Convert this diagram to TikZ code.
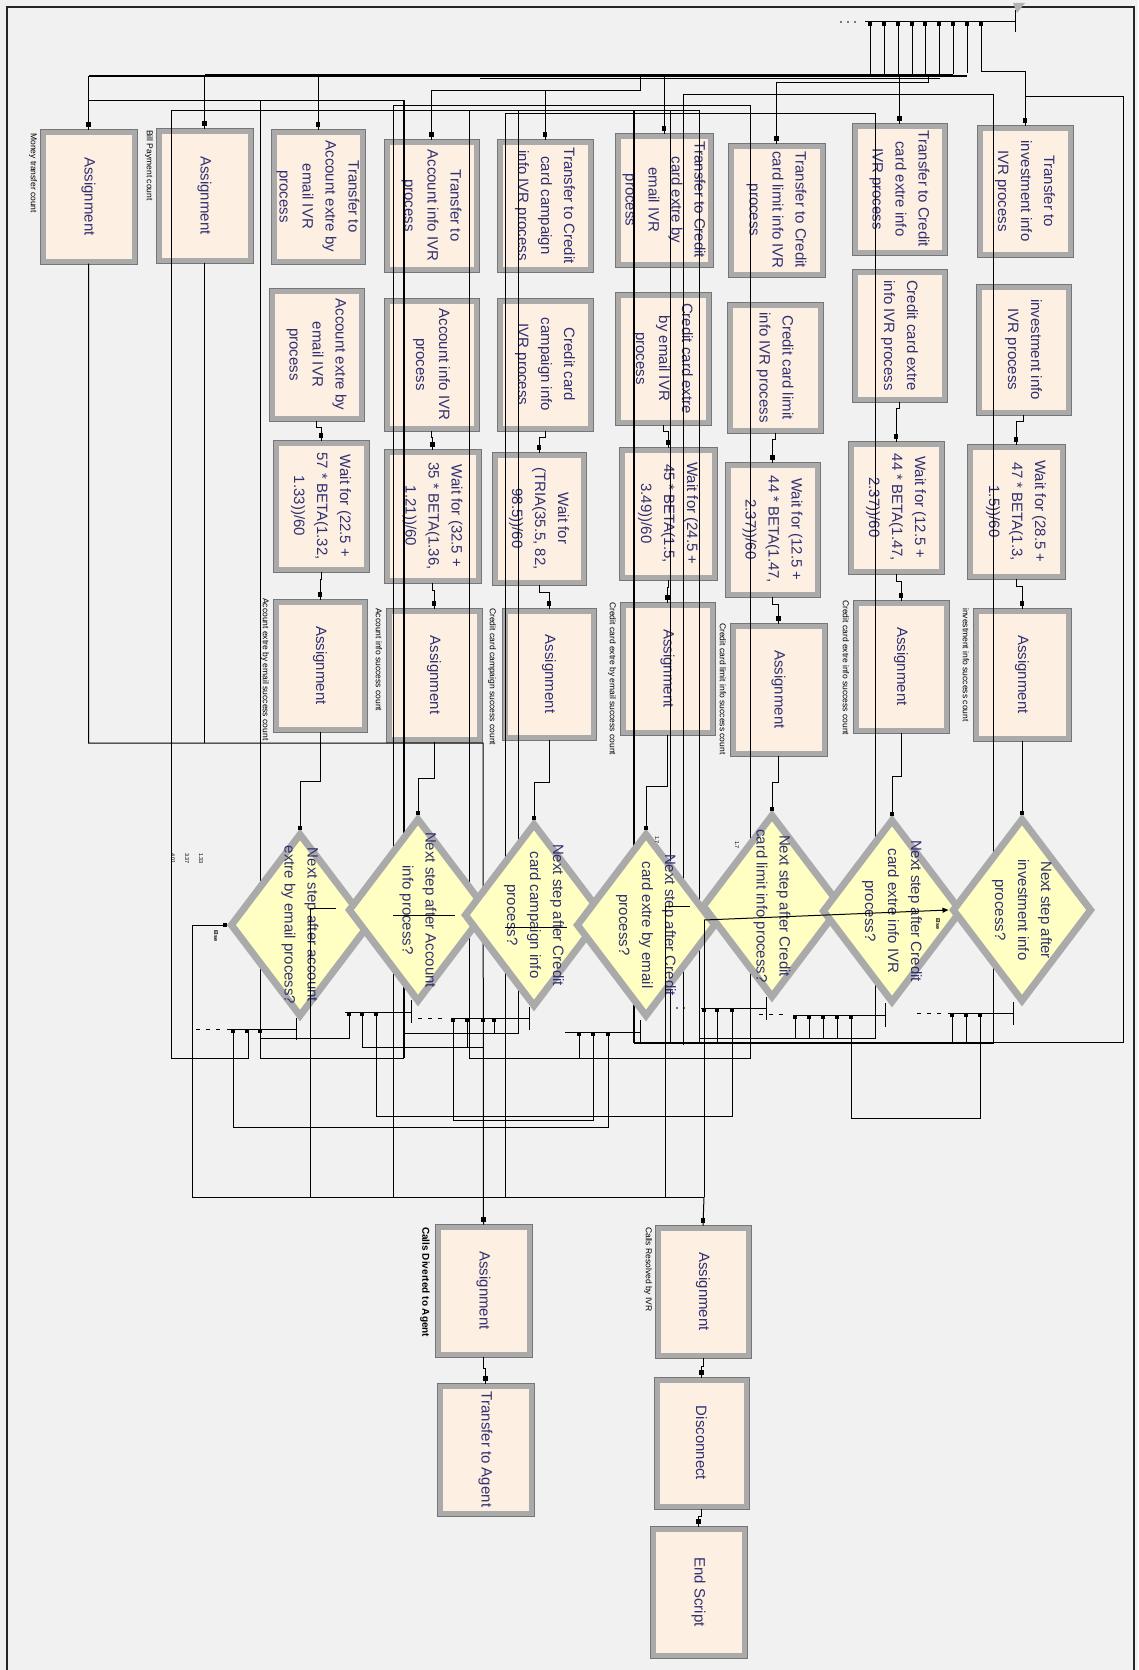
\documentclass[tikz,border=0pt]{standalone}
\usepackage{fontspec}
\setmainfont{Liberation Sans}
\usetikzlibrary{shapes.geometric,arrows.meta}
\definecolor{bg}{RGB}{241,241,241}
\definecolor{peach}{RGB}{253,240,226}
\definecolor{bevel}{RGB}{170,170,170}
\definecolor{beveldark}{RGB}{118,118,118}
\definecolor{dyellow}{RGB}{255,255,196}
\definecolor{ink}{RGB}{48,48,112}
\tikzset{
  pbox/.style={draw=bevel, line width=5pt, fill=peach, inner sep=0pt,
    preaction={draw=beveldark, line width=7pt}},
  ptext/.style={rotate=-90, align=center, text=ink, inner sep=0pt,
    font=\fontsize{15}{23}\selectfont},
  pdia/.style={shape=diamond, draw=bevel, line width=7pt, fill=dyellow, inner sep=0pt,
    minimum width=140pt, minimum height=184pt},
  lbl/.style={rotate=-90, anchor=west, inner sep=0pt, font=\fontsize{8.5}{9}\selectfont},
  tiny/.style={rotate=-90, anchor=west, inner sep=0pt, font=\fontsize{5.5}{6}\selectfont},
  cn/.style={line width=1pt, black},
  cnt/.style={line width=1.7pt, black},
  dsh/.style={line width=1pt, dash pattern=on 4pt off 6pt},
}
\newcommand\pb[6]{%
  \node[pbox, minimum width={#4-#2-6}, minimum height={#5-#3-6}] (#1) at ({(#2+#4)/2},{(#3+#5)/2}) {};
  \node[ptext] (#1t) at (#1) {#6};}
\newcommand\pd[4]{%
  \node[pdia] (#1) at (#2,#3) {};
  \node[ptext] (#1t) at (#1) {#4};}
\newcommand\indot[1]{\fill ([yshift=3pt]#1.north) ++(-2.2,-4.5) rectangle ++(4.4,4.5);}
\newcommand\pdot[2]{\fill (#1-2,#2) rectangle (#1+2,#2+4);}
\begin{document}
\begin{tikzpicture}[x=1pt,y=-1pt]
\useasboundingbox (0,0) rectangle (1138,1670);
\fill[bg] (0,0) rectangle (1138,1670);
\draw[line width=1.6pt, black!85] (7,1670) -- (7,7) -- (1134,7) -- (1134,1670);

% ---------------- boxes ----------------
\pb{B1}{40}{129}{137}{264}{Assignment}
\pb{B2}{156}{128}{253}{263}{Assignment}
\pb{T3}{271}{129}{365}{264}{Transfer to\\Account extre by\\email IVR\\process}
\pb{T4}{384}{139}{479}{272}{Transfer to\\Account info IVR\\process}
\pb{T5}{497}{139}{593}{272}{Transfer to Credit\\card campaign\\info IVR process}
\pb{T6}{615}{133}{713}{267}{Transfer to Credit\\card extre by\\email IVR\\process}
\pb{T7}{728}{143}{825}{277}{Transfer to Credit\\card limit info IVR\\process}
\pb{T8}{852}{123}{947}{255}{Transfer to Credit\\card extre info\\IVR process}
\pb{T9}{977}{125}{1073}{257}{Transfer to\\investment info\\IVR process}

\pb{R3}{269}{288}{364}{421}{Account extre by\\email IVR\\process}
\pb{R4}{384}{298}{479}{431}{Account info IVR\\process}
\pb{R5}{497}{298}{593}{431}{Credit card\\campaign info\\IVR process}
\pb{R6}{615}{292}{711}{425}{Credit card extre\\by email IVR\\process}
\pb{R7}{727}{302}{823}{433}{Credit card limit\\info IVR process}
\pb{R8}{852}{269}{947}{402}{Credit card extre\\info IVR process}
\pb{R9}{976}{284}{1071}{415}{investment info\\IVR process}

\pb{W3}{273}{440}{369}{572}{Wait for (22.5 +\\57 * BETA(1.32,\\1.33))/60}
\pb{W4}{384}{449}{481}{583}{Wait for (32.5 +\\35 * BETA(1.36,\\1.21))/60}
\pb{W5}{492}{452}{586}{585}{Wait for\\(TRIA(35.5, 82,\\98.5))/60}
\pb{W6}{619}{447}{717}{580}{Wait for (24.5 +\\45 * BETA(1.5,\\3.49))/60}
\pb{W7}{725}{462}{820}{597}{Wait for (12.5 +\\44 * BETA(1.47,\\2.37))/60}
\pb{W8}{848}{441}{944}{574}{Wait for (12.5 +\\44 * BETA(1.47,\\2.37))/60}
\pb{W9}{967}{444}{1065}{579}{Wait for (28.5 +\\47 * BETA(1.3,\\1.5))/60}

\pb{A3}{273}{599}{367}{732}{Assignment}
\pb{A4}{386}{608}{482}{742}{Assignment}
\pb{A5}{502}{608}{596}{740}{Assignment}
\pb{A6}{620}{602}{715}{735}{Assignment}
\pb{A7}{730}{623}{827}{756}{Assignment}
\pb{A8}{853}{600}{949}{733}{Assignment}
\pb{A9}{973}{608}{1071}{741}{Assignment}

\pb{CA}{435}{1224}{532}{1357}{Assignment}
\pb{TA}{437}{1383}{534}{1516}{Transfer to Agent}
\pb{CR}{655}{1225}{751}{1358}{Assignment}
\pb{DC}{654}{1377}{749}{1509}{Disconnect}
\pb{ES}{650}{1526}{747}{1658}{End Script}

% ---------------- labels ----------------
\node[lbl] (l1) at (33,133) {Money transfer count};
\node[lbl] (l2) at (149,130) {Bill Payment count};
\node[lbl] (l3) at (265,598) {Account extre by email success count};
\node[lbl] (l4) at (379,608) {Account info success count};
\node[lbl] (l5) at (492,608) {Credit card campaign success count};
\node[lbl] (l6) at (612,602) {Credit card extre by email success count};
\node[lbl] (l7) at (723,623) {Credit card limit info success count};
\node[lbl] (l8) at (846,600) {Credit card extre info success count};
\node[lbl] (l9) at (966,608) {investment info success count};
\node[lbl, font=\bfseries\fontsize{10}{10}\selectfont] (lca) at (425,1227) {Calls Diverted to Agent};
\node[lbl] (lcr) at (648,1227) {Calls Resolved by IVR};

% ---------------- top bus ----------------
\coordinate (tb0) at (865,22);
\coordinate (tb1) at (1015,22);
\draw[cn] (tb0) -- (tb1);
\draw[cn] (1015,10) -- (1015,32);
\fill[gray!60] (1013,3) -- (1025,3) -- (1017,13) -- cycle;
\fill (841,22) circle (0.9pt) (848,22) circle (0.9pt) (855,22) circle (0.9pt);
\foreach \x/\y in {870/77,884/77,898/76,912/75,925/75,939/74,953/74,967/73}{%
  \draw[cn] (\x,22) -- (\x,\y); \pdot{\x}{22}}
\pdot{981}{22}
\draw[cn] (981,22) -- (981,72) -| (T9.north);

% main bundle
\draw[line width=1.4pt] (89,76) -- (967,76);
\draw[cn] (205,74.5) -- (953,74.5);
\draw[cn] (480,78) -- (940,78);

% inputs of top boxes
\draw[cn] (B1.north |- 0,76) -- (B1.north); \indot{B1}
\draw[cn] (B2.north |- 0,76) -- (B2.north); \indot{B2}
\draw[cn] (T3.north |- 0,76) -- (T3.north); \indot{T3}
\draw[cn] (T4.north |- 0,90) -- (T4.north); \indot{T4}
\draw[cn] (T5.north |- 0,90) -- (T5.north); \indot{T5}
\draw[cn] (T4.north |- 0,90) -- (640,90) -- (640,76);
\draw[cn] (T6.north |- 0,76) -- (T6.north); \indot{T6}
\draw[cn] (928,76) -- (928,82) -| (T7.north); \indot{T7}
\draw[cn] (T8.north |- 0,76) -- (T8.north); \indot{T8}
\indot{T9}

% long routing lines
\draw[cn] (89,100) -- (404,100);
\draw[cnt] (404,100) -- (404,1058);
\draw[cn] (260,100) -- (260,1058) -- (404,1058);
\draw[cn] (393,1197) -- (393,105) -- (750,105) -- (750,1058) -- (469,1058) -- (469,110);
\draw[cn] (248,1029) -- (248,1058) -- (171,1058) -- (171,110) -- (699,110) -- (699,1043);
\draw[cn] (518,110) -- (518,1033) -- (404,1033);
\draw[cnt] (634,110) -- (634,1043);
\draw[cn] (670,110) -- (670,1043);
\draw[cn] (505,1197) -- (505,113) -- (875,113) -- (875,1038) -- (699,1038);
\draw[cn] (683,1045) -- (683,94) -- (993,94) -- (993,1043);
\draw[cn] (1025,96) -- (1123,96) -- (1123,1042) -- (994,1042);
\draw[cnt] (634,1043) -- (994,1043);

% outputs of box 1 and 2 -> calls diverted
\draw[cn] (B1.south) -- (B1.south |- 0,743) -- (483,743) -- (CA.north);
\draw[cn] (B2.south) -- (B2.south |- 0,743);
\indot{CA}

% ---------------- diamonds ----------------
\pd{D3}{300}{925}{Next step after account\\extre by email process?}
\pd{D4}{418}{910}{Next step after Account\\info process?}
\pd{D5}{534}{915}{Next step after Credit\\card campaign info\\process?}
\pd{D6}{646}{925}{Next step after Credit\\card extre by email\\process?}
\pd{D7}{772}{906}{Next step after Credit\\card limit info process?}
\pd{D8}{892}{911}{Next step after Credit\\card extre info IVR\\process?}
\pd{D9}{1022}{910}{Next step after\\investment info\\process?}

% column flows
\foreach \c/\d in {3/50,4/37,5/43,6/52,7/27,8/44,9/39}{%
  \draw[cn] (R\c.south) -- ++(0,7) -| (W\c.north); \indot{W\c}
  \draw[cn] (W\c.south) -- ++(0,8) -| (A\c.north); \indot{A\c}
  \draw[cn] (A\c.south) -- ++(0,\d) -| (D\c.north);
  \fill (D\c.north) ++(-2.2,-4) rectangle ++(4.4,4);}

% exit rows
\draw[dsh] (196,1029) -- (224,1029);
\draw[cn] (227,1029) -- (296,1029); \draw[cn] (296,1018) -- (296,1040);
\foreach \x in {233,247,260}{\pdot{\x}{1029}}
\draw[cn] (345,1012) -- (411,1012); \draw[cn] (411,1000) -- (411,1023);
\foreach \x in {349,362,376}{\pdot{\x}{1012}}
\draw[dsh] (418,1018) -- (447,1018);
\draw[cn] (453,1018) -- (529,1018); \draw[cn] (529,1007) -- (529,1030);
\foreach \x in {453,467,483,494}{\pdot{\x}{1018}}
\draw[cn] (565,1032) -- (640,1032); \draw[cn] (640,1020) -- (640,1043);
\foreach \x in {579,593,608}{\pdot{\x}{1032}}
\fill (677,1008) circle (0.9pt) (684,1008) circle (0.9pt);
\draw[cn] (701,1008) -- (766,1008); \draw[cn] (766,997) -- (766,1020);
\foreach \x in {704,717,732}{\pdot{\x}{1008}}
\draw[dsh] (759,1014) -- (787,1014);
\draw[cn] (795,1015) -- (885,1015); \draw[cn] (885,1003) -- (885,1027);
\foreach \x in {795,809,823,837,851}{\pdot{\x}{1015}}
\draw[dsh] (917,1013) -- (945,1013);
\draw[cn] (948,1013) -- (1013,1013); \draw[cn] (1013,1002) -- (1013,1025);
\foreach \x in {952,966,980}{\pdot{\x}{1013}}

% exit lines
\draw[cn] (233,1029) -- (233,1127) -- (608,1127) -- (608,1032);
\draw[cn] (349,1012) -- (349,1038) -- (260,1038);
\draw[cn] (362,1012) -- (362,1047) -- (484,1047);
\draw[cn] (376,1012) -- (376,1116) -- (732,1116) -- (732,1008);
\draw[cn] (453,1018) -- (453,1120) -- (593,1120) -- (593,1032);
\draw[cn] (467,1018) -- (467,1047);
\draw[cn] (494,1018) -- (494,1033);
\draw[cn] (579,1032) -- (579,1058);
\draw[cn] (717,1008) -- (717,1043);
\foreach \x in {795,809,823,837}{\draw[cn] (\x,1015) -- (\x,1038);}
\draw[cn] (851,1015) -- (851,1118) -- (980,1118) -- (980,1013);
\foreach \x in {952,966}{\draw[cn] (\x,1013) -- (\x,1043);}

% lines across the diamonds
\draw[cn] (336,908) -- (310,908) -- (310,1197);
\draw[cn] (393,915) -- (455,915);
\draw[cn] (505,927) -- (567,927);
\draw[cn] (690,906) -- (665,906) -- (665,1197);
\draw[cn] (704,1197) -- (704,920);
\draw[cn, -{Triangle[length=6pt,width=5pt]}] (704,920) -- (D9.west);
\draw[cn] (D3.west) -- (D3.west -| 192,0) -- (192,1197);
\fill (D3.west) ++(-4,-2) rectangle ++(4,4);

% bottom bus
\draw[cn] (192,1197) -- (704,1197);
\draw[cn] (704,1197) -- (CR.north); \indot{CR}

% bottom chains
\draw[cn] (CA.south) -- ++(0,12) -| (TA.north); \indot{TA}
\draw[cn] (CR.south) -- ++(0,9) -| (DC.north); \indot{DC}
\draw[cn] (DC.south) -- ++(0,8) -| (ES.north); \indot{ES}

% small texts
\node[tiny, font=\bfseries\fontsize{5.5}{6}\selectfont] (e3) at (216,930) {Else};
\node[tiny, font=\bfseries\fontsize{5.5}{6}\selectfont] (e9) at (938,918) {Else};
\node[tiny] (p1) at (201,853) {1.33};
\node[tiny] (p2) at (187,853) {3.37};
\node[tiny] (p3) at (173,853) {4.01};
\node[tiny] (p4) at (657,836) {1.7};
\node[tiny] (p5) at (737,841) {1.7};
\end{tikzpicture}
\end{document}
